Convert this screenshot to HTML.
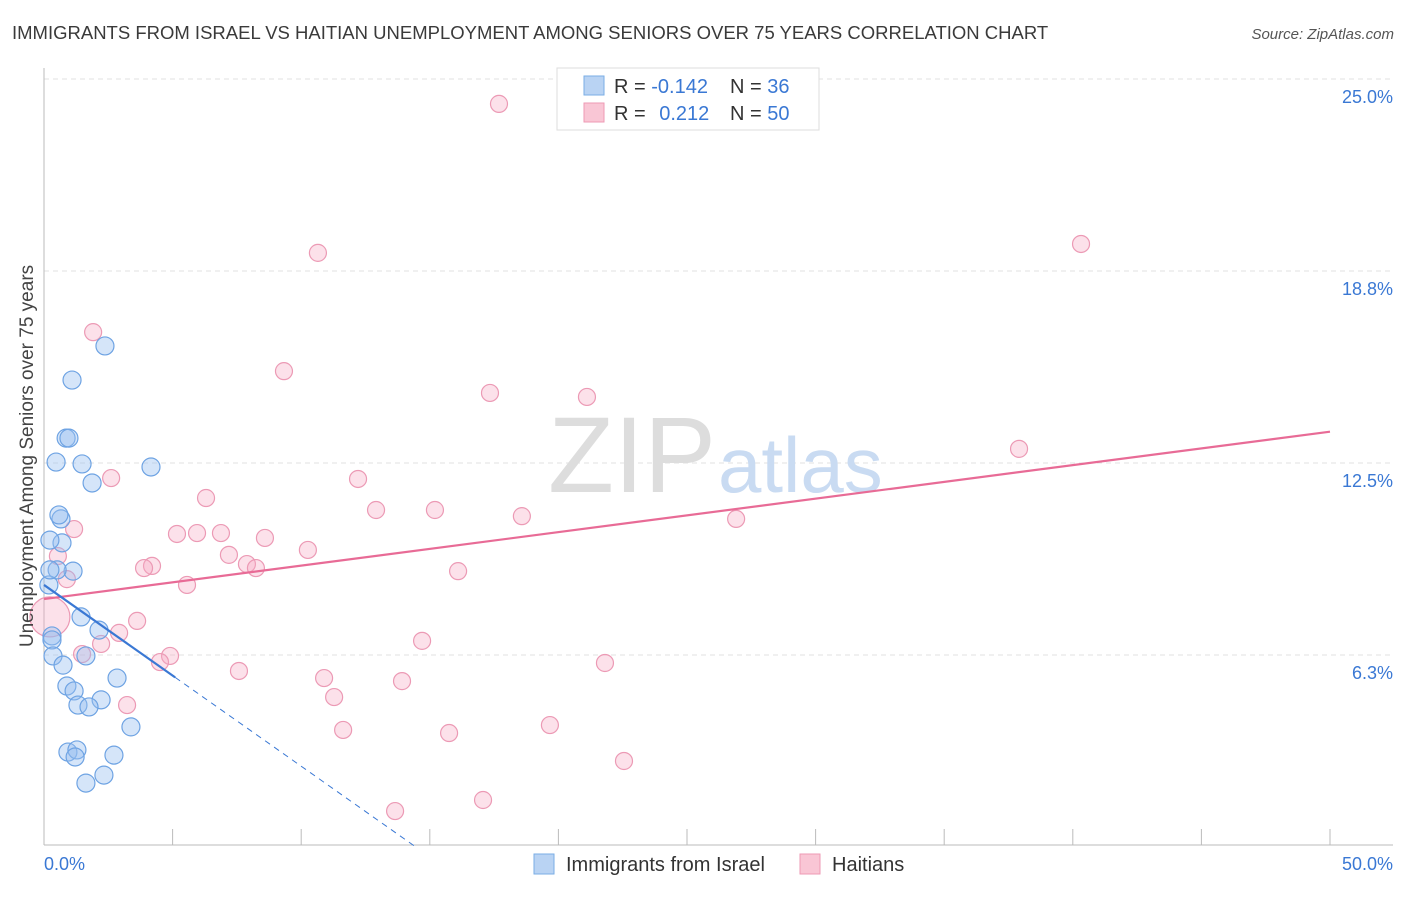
<!DOCTYPE html>
<html><head><meta charset="utf-8"><style>
body{margin:0;background:#fff;font-family:"Liberation Sans",sans-serif;}
svg text{font-family:"Liberation Sans",sans-serif;}
</style></head><body>
<svg id="chart" width="1406" height="892" viewBox="0 0 1406 892" xmlns="http://www.w3.org/2000/svg">
<text x="12" y="39" font-size="18.5" fill="#3a3a3a">IMMIGRANTS FROM ISRAEL VS HAITIAN UNEMPLOYMENT AMONG SENIORS OVER 75 YEARS CORRELATION CHART</text>
<text x="1394" y="39" font-size="15" fill="#555" text-anchor="end" font-style="italic">Source: ZipAtlas.com</text>
<g id="grid"></g>
<text x="716" y="492" font-size="108" fill="#ddd" text-anchor="end" font-family="Liberation Serif">ZIP</text>
<text x="718" y="492" font-size="78" fill="#c9dbf2">atlas</text>
<g id="marks"></g>
<text transform="translate(33,456) rotate(-90)" font-size="19" fill="#444" text-anchor="middle">Unemployment Among Seniors over 75 years</text>
<g>
<rect x="557" y="68" width="262" height="62" fill="#fff" stroke="#ddd"/>
<rect x="584" y="76" width="20" height="19" fill="#b9d3f3" stroke="#7aaee6"/>
<rect x="584" y="103" width="20" height="19" fill="#f9c6d5" stroke="#ee9ab4"/>
<text x="614" y="93" font-size="20" fill="#333">R = <tspan fill="#3a78d4">-0.142</tspan></text>
<text x="730" y="93" font-size="20" fill="#333">N = <tspan fill="#3a78d4">36</tspan></text>
<text x="614" y="120" font-size="20" fill="#333">R = <tspan fill="#3a78d4" dx="8">0.212</tspan></text>
<text x="730" y="120" font-size="20" fill="#333">N = <tspan fill="#3a78d4">50</tspan></text>
</g>
<g>
<rect x="534" y="854" width="20" height="20" fill="#b9d3f3" stroke="#7aaee6"/>
<text x="566" y="871" font-size="20" fill="#333">Immigrants from Israel</text>
<rect x="800" y="854" width="20" height="20" fill="#f9c6d5" stroke="#ee9ab4"/>
<text x="832" y="871" font-size="20" fill="#333">Haitians</text>
</g>
</svg>
<script>
const yTicks=[25.0,18.8,12.5,6.3];
const yTickLabels=["25.0%","18.8%","12.5%","6.3%"];
const xTickLabels=["0.0%","50.0%"];
const israelX=[2.37,1.09,0.86,0.97,0.47,1.48,4.16,1.87,0.66,0.58,0.70,0.23,1.13,0.51,0.19,1.44,2.14,0.31,0.31,0.35,1.63,0.74,2.84,0.89,1.17,2.22,1.32,1.75,3.38,0.93,1.28,1.21,2.72,2.33,1.63,0.23];
const israelY=[16.31,15.20,13.31,13.31,12.53,12.47,12.37,11.85,10.68,10.81,9.90,9.99,8.98,9.02,8.53,7.49,7.06,6.87,6.74,6.22,6.22,5.92,5.50,5.24,5.08,4.79,4.62,4.56,3.91,3.09,3.16,2.93,2.99,2.34,2.08,9.02];
const haitiX=[17.69,10.65,40.32,1.91,9.33,17.34,21.11,37.91,2.61,12.21,6.30,12.91,15.20,18.58,26.91,1.17,5.17,5.95,6.88,8.59,10.26,7.19,0.54,4.20,3.89,7.89,8.24,16.10,0.89,5.56,3.62,0.23,2.92,14.70,2.22,1.48,4.90,4.51,21.81,7.58,10.89,13.92,11.28,3.23,19.67,11.63,15.75,22.55,17.07,13.65];
const haitiY=[24.19,19.34,19.63,16.76,15.49,14.78,14.65,12.96,12.01,11.98,11.36,10.97,10.97,10.77,10.68,10.35,10.19,10.22,10.22,10.06,9.67,9.51,9.47,9.15,9.08,9.21,9.08,8.98,8.72,8.53,7.36,7.49,6.97,6.71,6.61,6.28,6.22,6.02,5.99,5.73,5.50,5.40,4.88,4.62,3.97,3.81,3.71,2.80,1.53,1.17];
const israelTrend=[8.53,-0.59];
const haitiTrend=[8.07,0.109];
const NS="http://www.w3.org/2000/svg";
const xs=v=>44+v*25.72, ys=v=>847-v*30.72;
function mk(t,a,p){const e=document.createElementNS(NS,t);for(const k in a)e.setAttribute(k,a[k]);p.appendChild(e);return e;}
const grid=document.getElementById('grid'),marks=document.getElementById('marks');
[25,18.75,12.5,6.25].forEach((v,i)=>{
 const l=mk('line',{x1:44,x2:1393,y1:ys(v),y2:ys(v),stroke:'#e2e2e2','stroke-dasharray':'5,4'},grid);
 
 
 const t=mk('text',{x:1393,y:ys(v)+24,'font-size':18,fill:'#3a78d4','text-anchor':'end'},grid);t.textContent=yTickLabels[i];
 
 
});
const ax=mk('line',{x1:44,x2:44,y1:68,y2:845,stroke:'#bbb'},grid);


const bx=mk('line',{x1:44,x2:1393,y1:845,y2:845,stroke:'#bbb'},grid);


for(let i=1;i<=10;i++){const tk=mk('line',{x1:xs(i*5),x2:xs(i*5),y1:829,y2:845,stroke:'#bbb'},grid);
 
 }
[[0,xTickLabels[0]],[50,xTickLabels[1]]].forEach(([v,s])=>{
 const t=mk('text',{x:v==0?44:1393,y:870,'font-size':18,fill:'#3a78d4','text-anchor':v==0?'start':'end'},grid);t.textContent=s;
 
 
});
haitiX.forEach((x,i)=>{const c=mk('circle',{cx:xs(x),cy:ys(haitiY[i]),r:(x==0.23&&haitiY[i]==7.49)?20:8.5,fill:'rgba(246,170,195,0.35)',stroke:'#ec9ab5','stroke-width':1.2},marks);
 
 });
israelX.forEach((x,i)=>{const c=mk('circle',{cx:xs(x),cy:ys(israelY[i]),r:9,fill:'rgba(150,190,240,0.4)',stroke:'#6ea3e3','stroke-width':1.2},marks);
 
 });
const hl=mk('line',{x1:xs(0),y1:ys(haitiTrend[0]),x2:xs(50),y2:ys(haitiTrend[0]+50*haitiTrend[1]),stroke:'#e86b96','stroke-width':2.2},marks);


const ib=mk('line',{x1:xs(0),y1:ys(israelTrend[0]),x2:xs(5.1),y2:ys(israelTrend[0]+5.1*israelTrend[1]),stroke:'#3a78d4','stroke-width':2.2},marks);


const xe=-israelTrend[0]/israelTrend[1];
const idl=mk('line',{x1:xs(5.1),y1:ys(israelTrend[0]+5.1*israelTrend[1]),x2:xs(xe),y2:ys(0),stroke:'#3a78d4','stroke-width':1,'stroke-dasharray':'6,5'},marks);


</script>
</body></html>
